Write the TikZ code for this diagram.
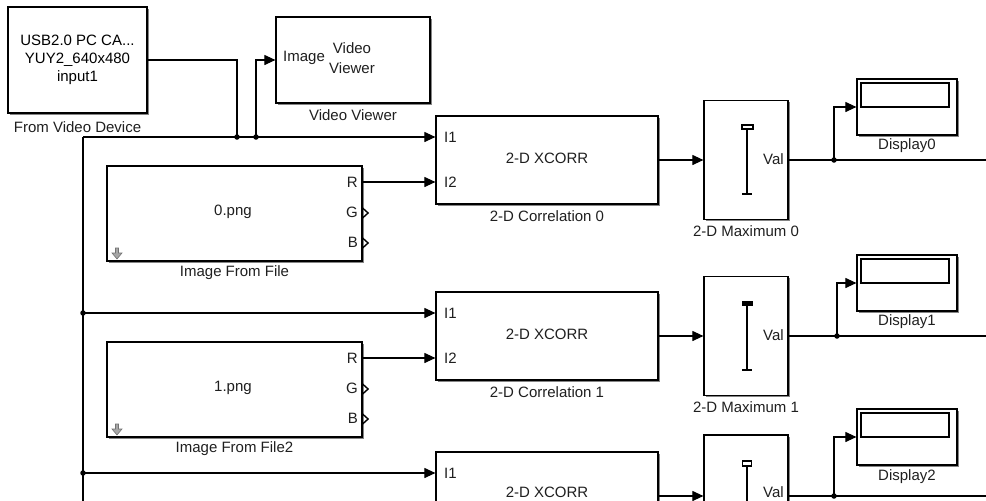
\documentclass[tikz,border=0pt]{standalone}
\usepackage{fontspec}
\setmainfont{Liberation Sans}
\usetikzlibrary{arrows.meta,shadows}
\begin{document}
\begin{tikzpicture}[x=1pt,y=-1pt,
  font=\fontsize{15}{18}\selectfont,
  blk/.style={draw=black, line width=1.2pt, fill=white, inner sep=0pt,
    drop shadow={shadow xshift=1.5pt,shadow yshift=-1.5pt,fill=black!60,opacity=0.8}},
  lbl/.style={inner sep=0pt, text=black!88},
  sig/.style={line width=1.1pt, -{Triangle[length=11pt,width=10pt]}},
  wire/.style={line width=1.1pt},
  jdot/.style={circle, fill=black, inner sep=0pt, minimum size=5.5pt},
  chev/.style={line width=1.4pt, line join=miter},
  maxsym/.style={line width=1.4pt},
  icon/.style={draw=black!55, fill=black!35, line width=0.6pt},
]
\useasboundingbox (0,0) rectangle (986,501);
\clip (0,0) rectangle (986,501);

% --- source and viewer ---
\node[blk, minimum width=139pt, minimum height=106pt, align=center] (fvd) at (77.5,60)
  {USB2.0 PC CA...\\YUY2\_640x480\\input1};
\node[lbl] (fvdl) at (77.5,127) {From Video Device};

\node[blk, minimum width=154pt, minimum height=86pt] (vv) at (353,60) {};
\node[lbl, anchor=west] (vvimg) at (283,58) {Image};
\node[lbl, align=center, font=\fontsize{15}{20}\selectfont] (vvtxt) at (352,58) {Video\\Viewer};
\node[lbl] (vvl) at (353,115) {Video Viewer};

% --- bus ---
\coordinate (bc) at (83,137);
\coordinate (bb) at (83,510);
\coordinate (j1) at (237,137);
\coordinate (j2) at (256,137);
\coordinate (d1) at (83,313);
\coordinate (d2) at (83,473);

% --- rows 0 and 1 ---
\foreach \i/\o/\k/\nm in {0/0/834/Image From File, 1/176/837/Image From File2} {
  \node[blk, minimum width=222pt, minimum height=88pt] (c\i) at (547,160+\o) {};
  \node[lbl] (ct\i) at (547,158+\o) {2-D XCORR};
  \node[lbl, anchor=west] (ci\i) at (444,137+\o) {I1};
  \node[lbl, anchor=west] (cj\i) at (444,182+\o) {I2};
  \node[lbl] (cl\i) at (547,216+\o) {2-D Correlation \i};

  \node[blk, minimum width=255pt, minimum height=95pt] (f\i) at (234.5,213.5+\o) {};
  \node[lbl] (ft\i) at (233,212+\o) {\i.png};
  \node[lbl, anchor=east] (fr\i) at (358,182+\o) {R};
  \node[lbl, anchor=east] (fg\i) at (358,212+\o) {G};
  \node[lbl, anchor=east] (fb\i) at (358,242+\o) {B};
  \node[lbl] (fl\i) at (234.5,273+\o) {\nm};
  \draw[chev] (f\i.east |- 0,208+\o) -- ++(5.5,5) -- ++(-5.5,5);
  \draw[chev] (f\i.east |- 0,238+\o) -- ++(5.5,5) -- ++(-5.5,5);
  \filldraw[icon] (115.5,248+\o) -- (118.5,248+\o) -- (118.5,253+\o) -- (122,253+\o)
     -- (117,259+\o) -- (112,253+\o) -- (115.5,253+\o) -- cycle;

  \node[blk, minimum width=84pt, minimum height=119pt] (m\i) at (746,160+\o) {};
  \node[lbl, anchor=east] (mv\i) at (784,159+\o) {Val};
  \node[lbl] (ml\i) at (746,231+\o) {2-D Maximum \i};
  \draw[maxsym] (747,128+\o) -- (747,194+\o);
  \draw[maxsym] (742,194+\o) -- (752,194+\o);

  \node[blk, minimum width=100pt, minimum height=56pt] (dsp\i) at (907,107+\o) {};
  \draw[line width=1.1pt] (861,83+\o) rectangle (949,107+\o);
  \node[lbl] (dl\i) at (907,146+\o) {Display\i};

  \draw[sig] (f\i.east |- fr\i.east) -- (c\i.west |- fr\i.east);
  \draw[sig] (c\i.east) -- (m\i.west);
  \coordinate (k\i) at (\k,160+\o);
  \coordinate (e\i) at (990,160+\o);
  \draw[wire] (m\i.east) -- (e\i);
  \draw[sig] (k\i) |- (dsp\i.west);
  \node[jdot] at (k\i) {};
}
% max symbol caps
\draw[line width=1.1pt] (742,125) rectangle (753,129);
\fill (742,301) rectangle (753,305.5);

% --- row 2 (partly visible) ---
\node[blk, minimum width=222pt, minimum height=88pt] (c2) at (547,496) {};
\node[lbl] (ct2) at (547,492) {2-D XCORR};
\node[lbl, anchor=west] (ci2) at (444,473) {I1};
\node[blk, minimum width=84pt, minimum height=120pt] (m2) at (746,495) {};
\node[lbl, anchor=east] (mv2) at (784,492) {Val};
\draw[line width=1.1pt] (742.5,461) rectangle (751.5,466);
\draw[maxsym] (747,466) -- (747,520);
\node[blk, minimum width=100pt, minimum height=56pt] (dsp2) at (907,437) {};
\draw[line width=1.1pt] (861,413) rectangle (949,437);
\node[lbl] (dl2) at (907,477) {Display2};
\coordinate (k2) at (834,496);
\coordinate (e2) at (990,496);
\draw[sig] (c2.east) -- (m2.west |- c2.east);
\draw[wire] (m2.east |- c2.east) -- (e2);
\draw[sig] (k2) |- (dsp2.west);
\node[jdot] at (k2) {};

% --- connectors from camera ---
\draw[wire] (fvd.east) -| (j1);
\draw[sig] (j2) |- (vv.west);
\draw[sig] (bc) -- (c0.west |- bc);
\draw[wire] (bc) -- (bb);
\draw[sig] (d1) -- (c1.west |- d1);
\draw[sig] (d2) -- (c2.west |- d2);
\node[jdot] at (j1) {};
\node[jdot] at (j2) {};
\node[jdot] at (d1) {};
\node[jdot] at (d2) {};
\end{tikzpicture}
\end{document}
